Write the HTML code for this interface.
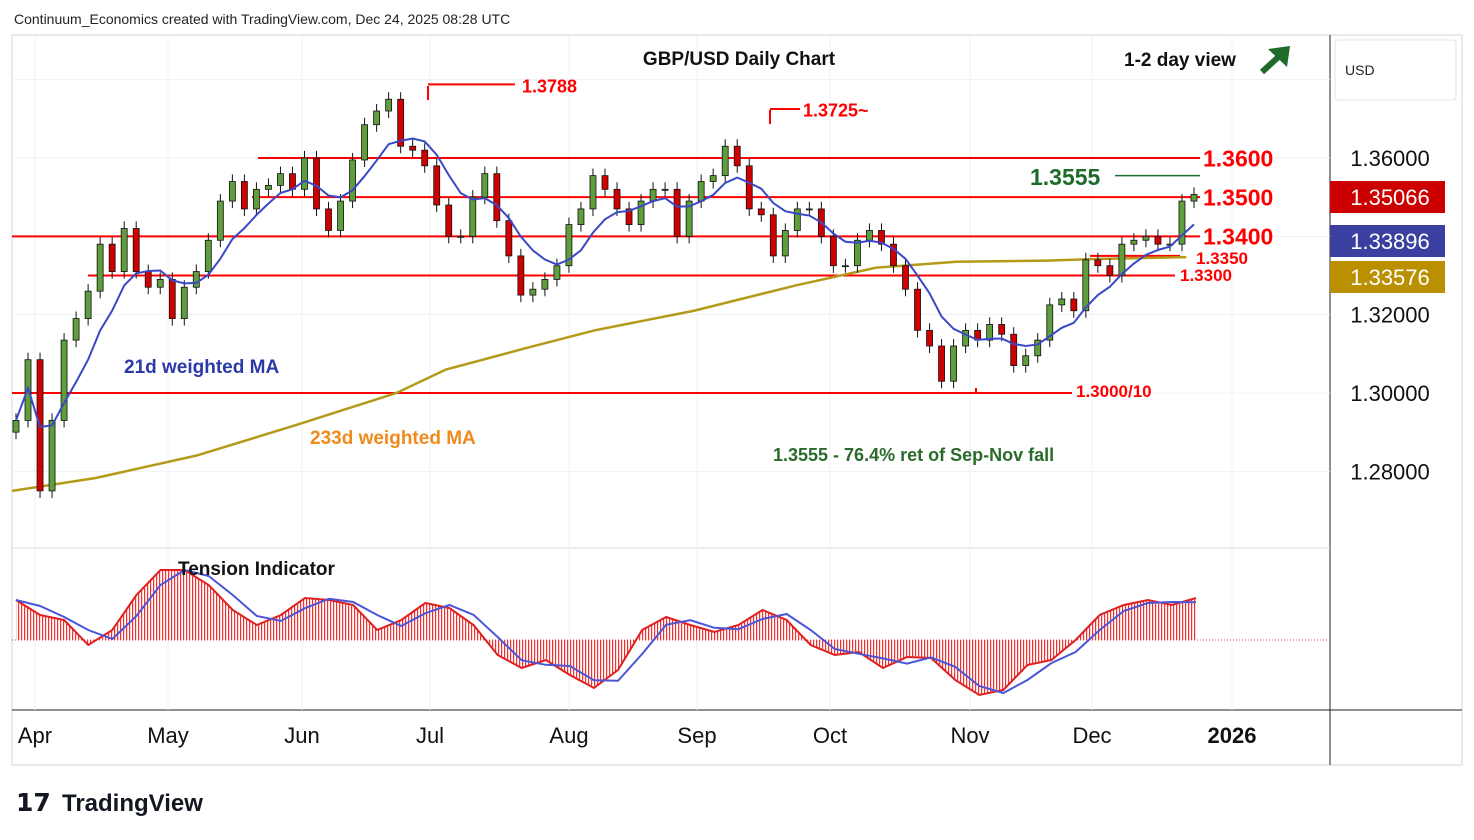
<!DOCTYPE html>
<html><head><meta charset="utf-8">
<style>
body{margin:0;background:#fff;font-family:"Liberation Sans",sans-serif}
svg{display:block}
</style></head><body>
<svg id="chart" width="1474" height="840" viewBox="0 0 1474 840">
<defs>
<pattern id="stripes" width="3" height="10" patternUnits="userSpaceOnUse"><rect x="0" y="0" width="1.2" height="10" fill="#f23030"/></pattern>
<clipPath id="mainclip"><rect x="12" y="36" width="1318" height="512"/></clipPath>
</defs>
<rect x="12" y="35" width="1450" height="730" fill="none" stroke="#d6d6d6"/>
<line x1="1330" y1="35" x2="1330" y2="765" stroke="#222"/>
<line x1="12" y1="548" x2="1330" y2="548" stroke="#ddd"/>
<line x1="12" y1="710" x2="1462" y2="710" stroke="#222"/>
<g id="grid"></g>
<g id="levels"></g>
<g id="ma233g" clip-path="url(#mainclip)"></g>
<g id="candles" clip-path="url(#mainclip)"></g>
<g id="ma21g" clip-path="url(#mainclip)"></g>
<g id="tension"></g>
<g id="axes"></g>
<text x="14" y="24" font-size="14" fill="#222">Continuum_Economics created with TradingView.com, Dec 24, 2025 08:28 UTC</text>
<text x="739" y="65" font-size="19" font-weight="bold" text-anchor="middle" fill="#111">GBP/USD Daily Chart</text>
<text x="1180" y="66" font-size="19" font-weight="bold" text-anchor="middle" fill="#111">1-2 day view</text>
<g><line x1="1262" y1="72" x2="1286" y2="50" stroke="#1e6b2a" stroke-width="6"/><polygon points="1290,46 1268,49 1287,67" fill="#1e6b2a"/></g>
<text x="124" y="373" font-size="19" font-weight="bold" fill="#2c3aa8">21d weighted MA</text>
<text x="310" y="444" font-size="19" font-weight="bold" fill="#f08a1c">233d weighted MA</text>
<text x="773" y="461" font-size="18" font-weight="bold" fill="#2a6a2a">1.3555 - 76.4% ret of Sep-Nov fall</text>
<text x="178" y="575" font-size="19" font-weight="bold" fill="#111">Tension Indicator</text>
<rect x="1335" y="40" width="121" height="60" rx="3" fill="#fff" stroke="#e3e3e3"/>
<text x="1345" y="75" font-size="14" fill="#222">USD</text>
<g><text x="16" y="811" font-size="25" font-weight="bold" fill="#131722">𝟭𝟳</text><text x="62" y="811" font-size="24" font-weight="bold" fill="#131722">TradingView</text></g>
</svg>
<script>
const NS="http://www.w3.org/2000/svg";
// ---- data ----
const closes=[1.293,1.3085,1.275,1.293,1.3135,1.319,1.326,1.338,1.331,1.342,1.331,1.327,1.329,1.319,1.327,1.331,1.339,1.349,1.354,1.347,1.352,1.353,1.356,1.352,1.360,1.347,1.3415,1.349,1.3595,1.3685,1.372,1.375,1.363,1.362,1.358,1.348,1.340,1.340,1.350,1.356,1.344,1.335,1.325,1.3265,1.329,1.3325,1.343,1.347,1.3555,1.352,1.347,1.343,1.349,1.352,1.352,1.340,1.349,1.354,1.3555,1.363,1.358,1.347,1.3455,1.335,1.3415,1.347,1.347,1.340,1.3325,1.3325,1.339,1.3415,1.338,1.3325,1.3265,1.316,1.312,1.303,1.312,1.316,1.3135,1.3175,1.315,1.307,1.3095,1.3135,1.3225,1.324,1.321,1.334,1.3325,1.330,1.338,1.339,1.340,1.338,1.338,1.349,1.3507];
const opens=[1.290].concat(closes.slice(0,-1));
const wick=0.0018;
const ma233Vals=[1.275,1.2783,1.284,1.2918,1.300,1.306,1.3115,1.316,1.321,1.3275,1.332,1.3335,1.3338,1.3342,1.3347];
const ma233Days=[0,13.5,29.7,45.8,62,70,83,94,110,126.5,139.4,152.3,166.8,174.9,189.4];
const tension=[40,25,20,-5,10,45,70,70,55,30,15,25,42,40,35,10,20,37,32,15,-15,-28,-20,-35,-48,-30,10,23,15,8,15,30,20,-5,-15,-12,-28,-17,-18,-40,-55,-50,-25,-20,0,25,35,40,35,42];
const monthLabels=["Apr","May","Jun","Jul","Aug","Sep","Oct","Nov","Dec","2026"];
const monthX=[35,168,302,430,569,697,830,970,1092,1232];
const priceTicks=[1.28,1.30,1.32,1.36];
const svg=document.getElementById('chart');
// ---- scales ----
const y=p=>158+(1.36-p)/0.02*78.33;
const N=closes.length;
const xi=i=>16+i*(1178/(N-1));
const xd=d=>12+d*(1178/190);
const ty=v=>640-v;
const tx=i=>16+i*(1180/(tension.length-1));
function mk(tag,attrs,parent){const e=document.createElementNS(NS,tag);for(const k in attrs)e.setAttribute(k,attrs[k]);(parent||svg).appendChild(e);return e;}
// grid
const grid=document.getElementById('grid');
monthX.forEach(x=>{const l=mk('line',{x1:x,y1:36,x2:x,y2:710,stroke:'#eef1f6'},grid);

});
[1.28,1.30,1.32,1.34,1.36,1.38].forEach(p=>{const l=mk('line',{x1:12,y1:y(p),x2:1330,y2:y(p),stroke:'#eef1f6'},grid);

});
// levels
const lv=document.getElementById('levels');
const levels=[[1.36,258,1200,'#f00'],[1.35,252,1200,'#f00'],[1.34,12,1200,'#f00'],[1.33,88,1175,'#f00'],[1.30,12,1072,'#f00'],[1.335,1090,1180,'#f00'],[1.3555,1115,1200,'#1e6b2a'],[1.3788,428,515,'#f00'],[1.3725,770,800,'#f00']];
levels.forEach(a=>{const l=mk('line',{x1:a[1],y1:y(a[0]),x2:a[2],y2:y(a[0]),stroke:a[3],'stroke-width':a[3]=='#f00'?2:1.5},lv);

});
mk('line',{x1:428,y1:86,x2:428,y2:100,stroke:'#f00','stroke-width':2},lv);
mk('line',{x1:770,y1:110,x2:770,y2:124,stroke:'#f00','stroke-width':2},lv);
mk('line',{x1:976,y1:y(1.30)-5,x2:976,y2:y(1.30),stroke:'#f00','stroke-width':2},lv);
const labs=[["1.3600",1203,158,23],["1.3500",1203,197,23],["1.3400",1203,236,23],["1.3350",1196,258,17],["1.3300",1180,275,17],["1.3788",522,86,18],["1.3725~",803,110,18],["1.3000/10",1076,391,17]];
labs.forEach(a=>{const t=mk('text',{x:a[1],y:a[2]+a[3]*0.36,'font-size':a[3],'font-weight':'bold',fill:'#f00'},lv);t.textContent=a[0];

});
const g3=mk('text',{x:1030,y:185,'font-size':23,'font-weight':'bold',fill:'#1e6b2a'},lv);g3.textContent="1.3555";


// candles
const cg=document.getElementById('candles');
closes.forEach((c,i)=>{const o=opens[i];const hi=Math.max(o,c)+wick,lo=Math.min(o,c)-wick;const up=c>=o;const x=xi(i);
const g=mk('g',{},cg);


mk('line',{x1:x,y1:y(hi),x2:x,y2:y(lo),stroke:'#111','stroke-width':1},g);
const top=y(Math.max(o,c)),bot=y(Math.min(o,c));
mk('rect',{x:x-3,y:top,width:6,height:Math.max(1,bot-top),fill:up?'#5f9e3c':'#d10000',stroke:'#111','stroke-width':0.8},g);});
// 21 WMA (approx on half-density data)
const L=8;let pts=[];
closes.forEach((c,i)=>{let s=0,w=0;for(let k=0;k<L&&i-k>=0;k++){s+=closes[i-k]*(L-k);w+=L-k;}pts.push(xi(i)+','+y(s/w));});
const m21=mk('polyline',{points:pts.join(' '),fill:'none',stroke:'#3a48c6','stroke-width':2},document.getElementById('ma21g'));


const m233=mk('polyline',{points:ma233Vals.map((v,i)=>xd(ma233Days[i])+','+y(v)).join(' '),fill:'none',stroke:'#b59a1a','stroke-width':2.5},document.getElementById('ma233g'));


// tension
const tg=document.getElementById('tension');
const tp=tension.map((v,i)=>[tx(i),ty(v)]);
const area=mk('polygon',{points:'16,640 '+tp.map(p=>p.join(',')).join(' ')+' '+tx(tension.length-1)+',640',fill:'url(#stripes)'},tg);


mk('line',{x1:12,y1:640,x2:1330,y2:640,stroke:'#f33','stroke-dasharray':'1 2'},tg);
const tl=mk('polyline',{points:tp.map(p=>p.join(',')).join(' '),fill:'none',stroke:'#e02020','stroke-width':2},tg);


const bl=mk('polyline',{points:tension.map((v,i)=>tx(i)+','+ty(i>0?(tension[i-1]*0.6+v*0.4):v)).join(' '),fill:'none',stroke:'#4a55d8','stroke-width':2},tg);


// axes
const ax=document.getElementById('axes');
monthLabels.forEach((m,i)=>{const t=mk('text',{x:monthX[i],y:743,'font-size':22,'text-anchor':'middle',fill:'#111','font-weight':m=='2026'?'bold':'normal'},ax);t.textContent=m;

});
priceTicks.forEach(p=>{const t=mk('text',{x:1390,y:y(p)+8,'font-size':22,'text-anchor':'middle',fill:'#111'},ax);t.textContent=p.toFixed(5);

});
[["1.35066",197,'#cc0000'],["1.33896",241,'#3b3f9f'],["1.33576",277,'#bb9000']].forEach(b=>{const g=mk('g',{},ax);


mk('rect',{x:1330,y:b[1]-16,width:115,height:32,fill:b[2]},g);
const t=mk('text',{x:1390,y:b[1]+8,'font-size':22,'text-anchor':'middle',fill:'#fff'},g);t.textContent=b[0];});
</script>
</body></html>
